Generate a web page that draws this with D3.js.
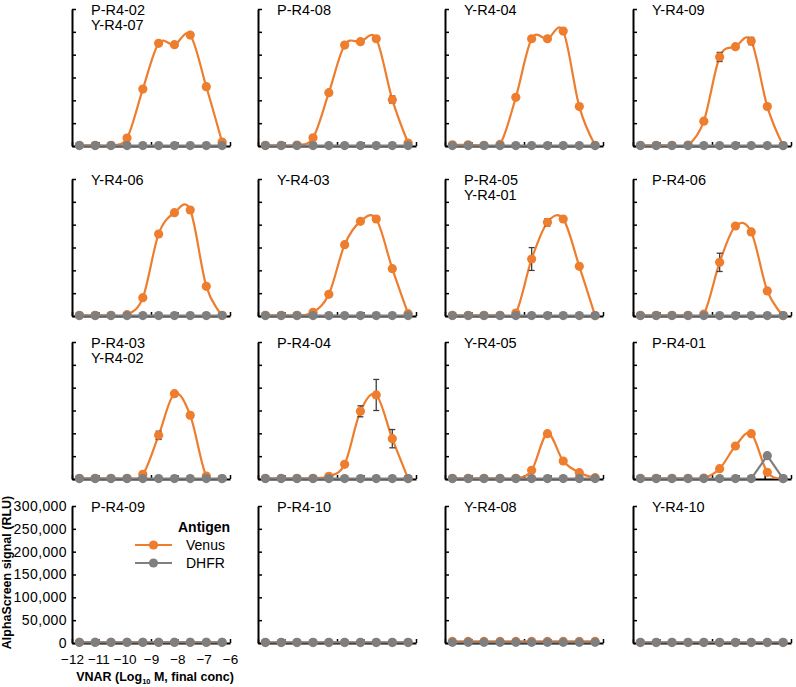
<!DOCTYPE html>
<html>
<head>
<meta charset="utf-8">
<script src="https://cdn.jsdelivr.net/npm/d3@7"></script>
<style>
  body { margin: 0; background: #fff; }
  text { font-family: "Liberation Sans", Arial, sans-serif; fill: #000; }
</style>
</head>
<body>
<div id="chart"></div>
<script>
var svgWidth = 796;
var svgHeight = 687;

// VNAR concentrations, 4-fold dilution series (log10 M)
var logConc = [-11.72, -11.12, -10.52, -9.91, -9.31, -8.71, -8.11, -7.51, -6.90, -6.30];

var panelNames = [
  ["P-R4-02", "Y-R4-07"], ["P-R4-08"], ["Y-R4-04"], ["Y-R4-09"],
  ["Y-R4-06"], ["Y-R4-03"], ["P-R4-05", "Y-R4-01"], ["P-R4-06"],
  ["P-R4-03", "Y-R4-02"], ["P-R4-04"], ["Y-R4-05"], ["P-R4-01"],
  ["P-R4-09"], ["P-R4-10"], ["Y-R4-08"], ["Y-R4-10"]
];

var venusSignal = [
  [1500, 1500, 1500, 17400, 124700, 224800, 221900, 242900, 129800, 8700],
  [1500, 1500, 2200, 18100, 116700, 221100, 228400, 234900, 101500, 6500],
  [2500, 2500, 1500, 3600, 106600, 234900, 234900, 251600, 86300, 1500],
  [1500, 1500, 1500, 2000, 54400, 195000, 217500, 229800, 86300, 1000],
  [1500, 1500, 1500, 2900, 40100, 179600, 226300, 232100, 65000, 1500],
  [1500, 1500, 1500, 8000, 47500, 156200, 207300, 212400, 103700, 5100],
  [1500, 1500, 1500, 1500, 6600, 124800, 205100, 212400, 108800, 1000],
  [1500, 1500, 1500, 1500, 4400, 117500, 197100, 184000, 54800, 1000],
  [1500, 1500, 1500, 1500, 10200, 95600, 186900, 139400, 6600, 1000],
  [1500, 1500, 1500, 1500, 5800, 32100, 148200, 184000, 88300, 1000],
  [1500, 1500, 1500, 1500, 1500, 19000, 99300, 39400, 13900, 2900],
  [1500, 1500, 1500, 1500, 2200, 22600, 72300, 99300, 14600, 1000],
  [1500, 1500, 1500, 1500, 1500, 1500, 1500, 1500, 1500, 1500],
  [1000, 1000, 1000, 1000, 1000, 1000, 1000, 1000, 1000, 1000],
  [3500, 3500, 3500, 3500, 3500, 3500, 3500, 3500, 3500, 3500],
  [1000, 1000, 1000, 1000, 1000, 1000, 1000, 1000, 1000, 1000]
];

var venusError = [
  [0, 0, 0, 0, 0, 0, 0, 4000, 6000, 0],
  [0, 0, 0, 0, 0, 4000, 0, 0, 8000, 0],
  [0, 0, 0, 0, 0, 0, 0, 0, 3000, 0],
  [0, 0, 0, 0, 0, 10000, 0, 8000, 5000, 0],
  [0, 0, 0, 0, 0, 0, 0, 0, 0, 0],
  [0, 0, 0, 0, 0, 0, 0, 0, 0, 0],
  [0, 0, 0, 0, 0, 25000, 8000, 0, 0, 0],
  [0, 0, 0, 0, 0, 20000, 3000, 5000, 0, 0],
  [0, 0, 0, 0, 0, 9000, 0, 6000, 0, 0],
  [0, 0, 0, 0, 0, 0, 12000, 34000, 20000, 0],
  [0, 0, 0, 0, 0, 0, 0, 0, 0, 0],
  [0, 0, 0, 0, 0, 0, 0, 0, 0, 0],
  [0, 0, 0, 0, 0, 0, 0, 0, 0, 0],
  [0, 0, 0, 0, 0, 0, 0, 0, 0, 0],
  [0, 0, 0, 0, 0, 0, 0, 0, 0, 0],
  [0, 0, 0, 0, 0, 0, 0, 0, 0, 0]
];

var dhfrSignal = [
  [1000, 1000, 1000, 1000, 1000, 1000, 1000, 1000, 1000, 1000],
  [1000, 1000, 1000, 1000, 1000, 1000, 1000, 1000, 1000, 1000],
  [1000, 1000, 1000, 1000, 1000, 1000, 1000, 1000, 1000, 1000],
  [1000, 1000, 1000, 1000, 1000, 1000, 1000, 1000, 1000, 1000],
  [1000, 1000, 1000, 1000, 1000, 1000, 1000, 1000, 1000, 1000],
  [1000, 1000, 1000, 1000, 1000, 1000, 1000, 1000, 1000, 1000],
  [1000, 1000, 1000, 1000, 1000, 1000, 1000, 1000, 1000, 1000],
  [1000, 1000, 1000, 1000, 1000, 1000, 1000, 1000, 1000, 1000],
  [1000, 1000, 1000, 1000, 1000, 1000, 1000, 1000, 1000, 1000],
  [1000, 1000, 1000, 1000, 1000, 1000, 1000, 1000, 1000, 1000],
  [1000, 1000, 1000, 1000, 1000, 1000, 1000, 1000, 1000, 1000],
  [1000, 1000, 1000, 1000, 1000, 1000, 1000, 1000, 51100, 1000],
  [1500, 1500, 1500, 1500, 1500, 1500, 1500, 1500, 1500, 1500],
  [1500, 1500, 1500, 1500, 1500, 1500, 1500, 1500, 1500, 1500],
  [1500, 1500, 1500, 1500, 1500, 1500, 1500, 1500, 1500, 1500],
  [1500, 1500, 1500, 1500, 1500, 1500, 1500, 1500, 1500, 1500]
];

var xTicks = [-12, -11, -10, -9, -8, -7, -6];
var yTicks = [0, 50000, 100000, 150000, 200000, 250000, 300000];
var legendNames = ["Venus", "DHFR"];

var venusColor = "#ee7d2e";
var dhfrColor = "#7f7f7f";
var errColor = "#3f3f3f";

// panel layout
var colAxisX = [72, 258, 445, 633];
var rowBase = [146, 316, 479, 643];
var plotW = 158;
var plotH = 137;

var svg = d3.select("#chart")
  .append("svg")
  .attr("width", svgWidth)
  .attr("height", svgHeight);

// keep the smoothed curve from dipping under the x axis
svg.append("defs").append("clipPath")
  .attr("id", "plotClip")
  .append("rect")
  .attr("x", -10).attr("y", -20)
  .attr("width", plotW + 20).attr("height", plotH + 20);

var xScale = d3.scaleLinear().domain([-12, -6]).range([0, plotW]);
var yScale = d3.scaleLinear().domain([0, 300000]).range([plotH, 0]);

var smoothLine = d3.line()
  .x(d => xScale(d.x))
  .y(d => yScale(d.v))
  .curve(d3.curveCardinal.tension(0));

var straightLine = d3.line()
  .x(d => xScale(d.x))
  .y(d => yScale(d.v));

function toPoints(values, errs) {
  return values.map(function(v, i) {
    return { x: logConc[i], v: v, e: errs ? errs[i] : 0 };
  });
}

panelNames.forEach(function(names, p) {
  var row = Math.floor(p / 4);
  var col = p % 4;
  var showLabels = (p === 12);

  var g = svg.append("g")
    .attr("transform", `translate(${colAxisX[col]}, ${rowBase[row] - plotH})`);

  // axes
  var leftAxis = d3.axisLeft(yScale)
    .tickValues(yTicks)
    .tickSizeInner(-4)
    .tickSizeOuter(0)
    .tickPadding(5)
    .tickFormat(showLabels ? d3.format(",") : "");

  var bottomAxis = d3.axisBottom(xScale)
    .tickValues(xTicks)
    .tickSizeInner(-4)
    .tickSizeOuter(0)
    .tickPadding(11)
    .tickFormat(showLabels ? d3.format("") : "");

  var yAx = g.append("g").call(leftAxis);
  var xAx = g.append("g")
    .attr("transform", `translate(0, ${plotH})`)
    .call(bottomAxis);

  [yAx, xAx].forEach(function(ax) {
    ax.select(".domain").attr("stroke", "#000").attr("stroke-width", 2);
    ax.selectAll(".tick line").attr("stroke", "#000").attr("stroke-width", 1.5);
    ax.selectAll(".tick text")
      .style("font-family", "'Liberation Sans', Arial, sans-serif")
      .attr("fill", "#000");
  });
  yAx.selectAll(".tick text")
    .style("font-size", "14px")
    .style("letter-spacing", "0.4px");
  xAx.selectAll(".tick text").style("font-size", "13.5px");

  // panel title
  var title = g.append("text")
    .attr("x", 19)
    .attr("y", 6)
    .style("font-size", "14.5px");
  names.forEach(function(n, i) {
    title.append("tspan")
      .attr("x", 19)
      .attr("dy", i === 0 ? 0 : 15)
      .text(n);
  });

  var venusPts = toPoints(venusSignal[p], venusError[p]);
  var dhfrPts = toPoints(dhfrSignal[p]);

  // Venus series
  g.append("path")
    .datum(venusPts)
    .attr("d", smoothLine)
    .attr("clip-path", "url(#plotClip)")
    .attr("fill", "none")
    .attr("stroke", venusColor)
    .attr("stroke-width", 2.2);

  var errPts = venusPts.filter(d => d.e > 0);
  var eb = g.selectAll(".err")
    .data(errPts)
    .enter()
    .append("g")
    .attr("class", "err")
    .attr("stroke", errColor)
    .attr("stroke-width", 1.3);
  eb.append("line")
    .attr("x1", d => xScale(d.x)).attr("x2", d => xScale(d.x))
    .attr("y1", d => yScale(d.v - d.e)).attr("y2", d => yScale(d.v + d.e));
  eb.append("line")
    .attr("x1", d => xScale(d.x) - 3).attr("x2", d => xScale(d.x) + 3)
    .attr("y1", d => yScale(d.v + d.e)).attr("y2", d => yScale(d.v + d.e));
  eb.append("line")
    .attr("x1", d => xScale(d.x) - 3).attr("x2", d => xScale(d.x) + 3)
    .attr("y1", d => yScale(d.v - d.e)).attr("y2", d => yScale(d.v - d.e));

  g.selectAll(".vdot")
    .data(venusPts)
    .enter()
    .append("circle")
    .attr("class", "vdot")
    .attr("cx", d => xScale(d.x))
    .attr("cy", d => yScale(d.v))
    .attr("r", 4.6)
    .attr("fill", venusColor);

  // DHFR series
  g.append("path")
    .datum(dhfrPts)
    .attr("d", straightLine)
    .attr("fill", "none")
    .attr("stroke", dhfrColor)
    .attr("stroke-width", 2.2);

  g.selectAll(".ddot")
    .data(dhfrPts)
    .enter()
    .append("circle")
    .attr("class", "ddot")
    .attr("cx", d => xScale(d.x))
    .attr("cy", d => yScale(d.v))
    .attr("r", 4.6)
    .attr("fill", dhfrColor);
});

// y axis title
svg.append("text")
  .attr("transform", `translate(11, ${rowBase[3] - plotH / 2 - 2}) rotate(-90)`)
  .attr("text-anchor", "middle")
  .style("font-size", "12.5px")
  .style("font-weight", "bold")
  .text("AlphaScreen signal (RLU)");

// x axis title
var xTitle = svg.append("text")
  .attr("x", colAxisX[0] + plotW / 2 + 4)
  .attr("y", 681)
  .attr("text-anchor", "middle")
  .style("font-size", "12.5px")
  .style("font-weight", "bold");
xTitle.append("tspan").text("VNAR (Log");
xTitle.append("tspan").attr("dy", 3).style("font-size", "7.5px").text("10");
xTitle.append("tspan").attr("dy", -3).text(" M, final conc)");

// legend
var legend = svg.append("g").attr("transform", "translate(135, 527)");
legend.append("text")
  .attr("x", 43)
  .attr("y", 5)
  .style("font-size", "14px")
  .style("font-weight", "bold")
  .text("Antigen");

var legendColors = [venusColor, dhfrColor];
var items = legend.selectAll(".item")
  .data(legendNames)
  .enter()
  .append("g")
  .attr("class", "item")
  .attr("transform", (d, i) => `translate(0, ${18 + i * 18})`);
items.append("line")
  .attr("x1", 0).attr("x2", 37)
  .attr("stroke", (d, i) => legendColors[i])
  .attr("stroke-width", 2.2);
items.append("circle")
  .attr("cx", 18.5)
  .attr("r", 4.6)
  .attr("fill", (d, i) => legendColors[i]);
items.append("text")
  .attr("x", 51)
  .attr("y", 5)
  .style("font-size", "14px")
  .text(d => d);
</script>
</body>
</html>
